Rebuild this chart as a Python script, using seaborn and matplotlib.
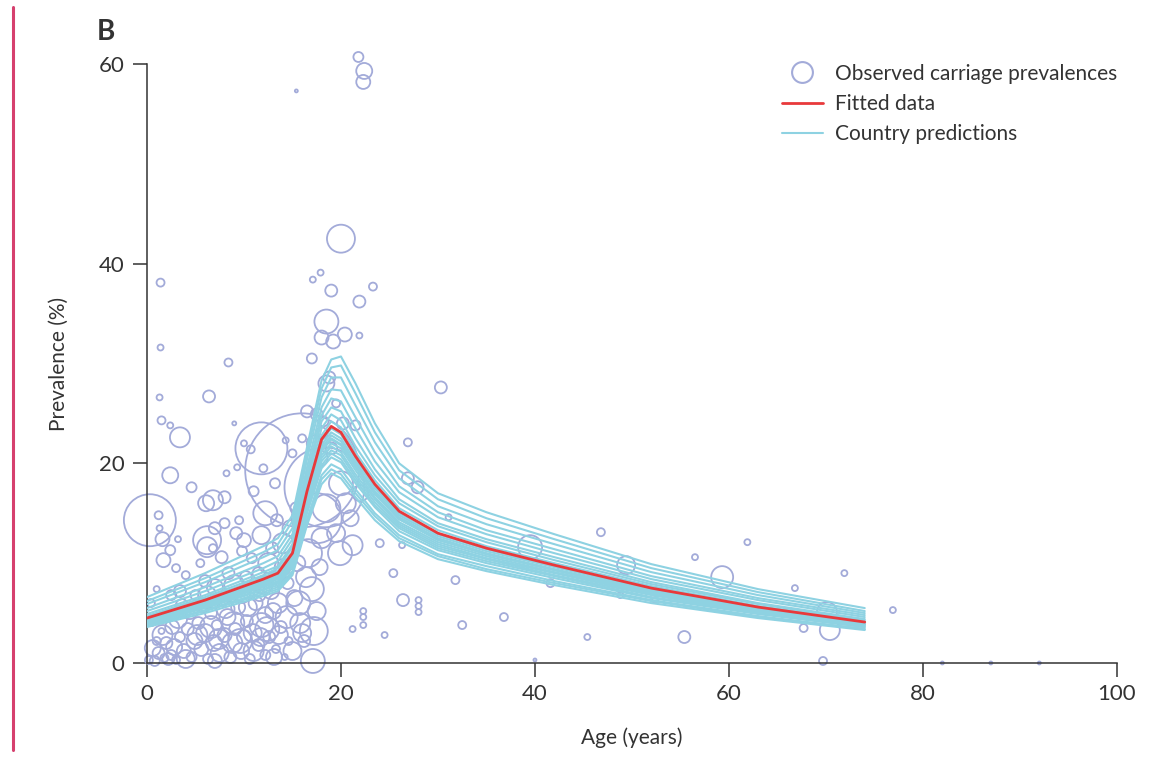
import matplotlib
matplotlib.use("Agg")
import matplotlib.pyplot as plt
from matplotlib.lines import Line2D
import pandas as pd
import seaborn as sns

# Observed carriage prevalences: age (years), prevalence (%), study size
OBS_AGE = [
    21.8, 22.4, 22.3, 15.4, 20.0, 17.9, 17.1, 19.0, 23.3, 21.9,
    18.5, 18.0, 20.4, 19.2, 21.9, 1.4, 1.4, 1.3, 6.4, 8.4,
    1.5, 2.4, 3.4, 30.3, 26.9, 11.8, 16.0, 18.3, 17.5, 0.3,
    1.2, 1.3, 1.6, 2.4, 1.7, 2.4, 4.6, 6.8, 6.1, 6.2,
    6.2, 8.2, 9.3, 9.0, 8.0, 10.7, 12.2, 9.5, 10.0, 11.8,
    13.4, 14.0, 12.5, 17.0, 18.5, 18.8, 17.5, 18.2, 20.2, 21.5,
    16.5, 19.5, 17.3, 17.8, 19.0, 18.0, 26.9, 27.9, 31.1, 26.3,
    25.4, 21.2, 19.9, 24.0, 31.8, 28.0, 28.0, 28.0, 26.4, 32.5,
    36.8, 39.5, 46.8, 41.6, 45.4, 49.4, 48.8, 52.4, 55.4, 56.5,
    59.3, 61.9, 66.8, 67.7, 70.1, 70.4, 71.9, 69.7, 76.9, 82.0,
    87.0, 92.0, 40.0, 24.5, 22.3, 22.3, 22.3, 21.2, 0.2, 0.8,
    1.2, 1.8, 2.5, 1.0, 2.0, 2.8, 3.4, 3.0, 1.5, 0.5,
    3.8, 4.2, 4.6, 4.9, 5.3, 5.6, 6.0, 6.3, 6.6, 6.9,
    7.2, 7.5, 7.8, 8.0, 8.3, 8.6, 8.8, 9.1, 9.4, 9.7,
    10.0, 10.3, 10.6, 10.9, 11.2, 11.5, 11.8, 12.2, 12.6, 13.0,
    13.3, 13.8, 14.2, 14.6, 5.0, 3.6, 2.2, 6.0, 7.0, 8.4,
    9.0, 10.2, 4.0, 3.0, 5.5, 7.7, 6.8, 10.8, 11.5, 12.8,
    13.5, 14.5, 15.2, 15.8, 16.2, 16.4, 17.0, 17.5, 17.8, 16.6,
    15.5, 17.2, 17.1, 18.0, 18.5, 19.5, 20.5, 21.0, 20.0, 22.0,
    14.8, 15.4, 13.2, 11.0, 12.0, 14.3, 15.0, 16.0, 10.0, 11.6,
    12.2, 0.4, 1.0, 2.5, 9.2, 8.0, 7.0, 9.8, 12.9, 3.2,
    0.6, 1.6, 2.6, 3.2, 4.4, 5.2, 5.8, 6.6, 7.4, 8.1,
    8.9, 9.6, 10.4, 11.0, 11.7, 12.4, 13.1, 13.6, 14.4, 15.0,
    15.6, 16.0, 7.0, 4.0, 2.2, 9.8, 6.2, 3.4, 12.0, 14.0,
]
OBS_PREV = [
    60.7, 59.3, 58.2, 57.3, 42.5, 39.1, 38.4, 37.3, 37.7, 36.2,
    34.2, 32.6, 32.9, 32.2, 32.8, 38.1, 31.6, 26.6, 26.7, 30.1,
    24.3, 23.8, 22.6, 27.6, 22.1, 21.5, 19.3, 17.6, 14.5, 14.3,
    14.8, 13.5, 12.4, 11.3, 10.3, 18.8, 17.6, 16.3, 16.0, 12.3,
    11.6, 19.0, 19.6, 24.0, 16.6, 21.4, 15.0, 14.3, 12.3, 12.8,
    14.3, 12.0, 10.0, 30.5, 28.0, 28.6, 24.9, 24.2, 24.0, 23.8,
    25.2, 26.0, 22.0, 20.5, 21.5, 23.0, 18.5, 17.6, 14.6, 11.8,
    9.0, 11.8, 11.0, 12.0, 8.3, 6.3, 5.7, 5.1, 6.3, 3.8,
    4.6, 11.6, 13.1, 8.0, 2.6, 9.8, 6.8, 6.3, 2.6, 10.6,
    8.6, 12.1, 7.5, 3.5, 5.1, 3.3, 9.0, 0.2, 5.3, 0.0,
    0.0, 0.0, 0.3, 2.8, 3.8, 4.6, 5.2, 3.4, 0.3, 0.2,
    1.0, 0.5, 0.8, 2.2, 2.0, 1.6, 2.6, 0.3, 3.2, 4.0,
    1.2, 3.4, 0.6, 2.2, 4.0, 1.4, 3.0, 0.4, 5.0, 2.0,
    3.8, 1.0, 6.2, 2.8, 4.6, 0.6, 2.0, 3.4, 5.6, 1.2,
    2.6, 4.2, 0.4, 3.0, 6.0, 1.8, 3.8, 0.8, 2.6, 5.2,
    1.4, 3.6, 0.6, 2.2, 6.8, 5.8, 4.8, 8.2, 7.6, 9.0,
    7.8, 8.6, 8.8, 9.5, 10.0, 10.6, 11.5, 10.5, 9.0, 7.2,
    6.0, 8.0, 6.5, 4.0, 2.2, 8.6, 7.4, 5.2, 9.6, 11.0,
    10.0, 3.2, 0.2, 12.5, 15.5, 13.0, 16.0, 14.5, 18.0, 17.0,
    13.5, 15.5, 18.0, 17.2, 19.5, 22.3, 21.0, 22.5, 22.0, 6.8,
    4.8, 6.0, 7.4, 6.8, 13.0, 14.0, 13.5, 11.2, 11.5, 12.4,
    1.5, 2.8, 3.6, 4.4, 5.2, 2.8, 5.8, 3.6, 2.4, 5.4,
    4.0, 2.2, 5.6, 1.2, 2.6, 3.4, 0.6, 2.8, 4.6, 1.2,
    6.0, 3.0, 0.2, 0.4, 0.4, 6.8, 6.8, 7.2, 7.8, 9.6,
]
OBS_N = [
    250, 640, 490, 22, 1960, 90, 90, 360, 160, 360,
    1440, 490, 490, 490, 90, 160, 90, 90, 360, 160,
    160, 90, 1000, 360, 160, 6760, 32490, 16000, 6250, 6760,
    160, 90, 490, 250, 490, 640, 250, 1000, 640, 1960,
    1000, 90, 90, 40, 360, 160, 1440, 160, 490, 810,
    360, 1000, 1000, 250, 640, 360, 360, 250, 360, 250,
    360, 160, 640, 640, 360, 360, 360, 360, 90, 90,
    160, 1000, 1440, 160, 160, 90, 90, 90, 360, 160,
    160, 1440, 160, 160, 90, 810, 90, 90, 360, 90,
    1210, 90, 90, 160, 1000, 1000, 90, 160, 90, 22,
    22, 22, 22, 90, 90, 90, 90, 90, 160, 250,
    360, 160, 250, 160, 360, 640, 250, 160, 90, 90,
    490, 360, 250, 640, 360, 490, 810, 250, 360, 640,
    250, 810, 250, 490, 640, 360, 1000, 360, 490, 640,
    490, 360, 250, 810, 490, 360, 1440, 250, 360, 640,
    160, 360, 90, 160, 250, 360, 160, 360, 640, 360,
    1000, 360, 160, 160, 160, 360, 160, 250, 360, 640,
    1000, 360, 640, 1000, 360, 1000, 1440, 810, 640, 1960,
    640, 1960, 1440, 1000, 1960, 810, 1000, 640, 1440, 640,
    640, 360, 250, 250, 160, 90, 160, 160, 90, 360,
    640, 160, 90, 250, 360, 250, 360, 250, 360, 90,
    640, 1000, 490, 810, 640, 1000, 490, 1210, 1000, 810,
    1210, 1440, 810, 1000, 810, 1440, 640, 810, 1210, 810,
    1440, 810, 490, 810, 360, 640, 810, 360, 810, 640,
]

# Model curves, read at these ages
AGE_KNOTS = [0, 6, 12, 13.5, 15, 16.5, 18, 19, 20, 21.5, 23.5, 26, 30, 35, 42, 52, 63, 74]
FITTED = [4.5, 6.3, 8.4, 9.0, 11.0, 17.2, 22.4, 23.7, 23.1, 20.7, 17.9, 15.2, 13.0, 11.5, 9.8, 7.5, 5.6, 4.1]
COUNTRY_PRED = [
    [3.6, 5.0, 6.7, 7.2, 8.8, 13.8, 17.9, 19.0, 18.5, 16.6, 14.3, 12.2, 10.4, 9.2, 7.8, 6.0, 4.5, 3.3],
    [3.7, 5.2, 6.9, 7.4, 9.0, 14.1, 18.4, 19.4, 18.9, 17.0, 14.7, 12.5, 10.7, 9.4, 8.0, 6.2, 4.6, 3.4],
    [3.8, 5.3, 7.1, 7.6, 9.2, 14.4, 18.8, 19.9, 19.4, 17.4, 15.0, 12.8, 10.9, 9.7, 8.2, 6.3, 4.7, 3.4],
    [3.9, 5.5, 7.3, 7.8, 9.6, 15.0, 19.5, 20.6, 20.1, 18.0, 15.6, 13.2, 11.3, 10.0, 8.5, 6.5, 4.9, 3.6],
    [4.0, 5.6, 7.4, 8.0, 9.7, 15.2, 19.8, 21.0, 20.4, 18.3, 15.8, 13.5, 11.5, 10.2, 8.7, 6.6, 5.0, 3.6],
    [4.0, 5.7, 7.6, 8.1, 9.9, 15.5, 20.2, 21.3, 20.8, 18.6, 16.1, 13.7, 11.7, 10.4, 8.8, 6.8, 5.0, 3.7],
    [4.1, 5.8, 7.7, 8.2, 10.1, 15.7, 20.5, 21.7, 21.1, 18.9, 16.4, 13.9, 11.9, 10.5, 9.0, 6.9, 5.1, 3.8],
    [4.2, 5.9, 7.8, 8.4, 10.2, 16.0, 20.8, 22.0, 21.5, 19.3, 16.6, 14.1, 12.1, 10.7, 9.1, 7.0, 5.2, 3.8],
    [4.3, 6.0, 7.9, 8.5, 10.4, 16.3, 21.2, 22.4, 21.8, 19.6, 16.9, 14.4, 12.3, 10.9, 9.3, 7.1, 5.3, 3.9],
    [4.3, 6.0, 8.0, 8.6, 10.4, 16.4, 21.3, 22.5, 21.9, 19.7, 17.0, 14.4, 12.4, 10.9, 9.3, 7.1, 5.3, 3.9],
    [4.3, 6.0, 8.1, 8.6, 10.6, 16.5, 21.5, 22.8, 22.2, 19.9, 17.2, 14.6, 12.5, 11.0, 9.4, 7.2, 5.4, 3.9],
    [4.4, 6.1, 8.2, 8.8, 10.7, 16.8, 21.8, 23.1, 22.5, 20.2, 17.5, 14.8, 12.7, 11.2, 9.6, 7.3, 5.5, 4.0],
    [4.5, 6.2, 8.3, 8.9, 10.9, 17.0, 22.2, 23.5, 22.9, 20.5, 17.7, 15.0, 12.9, 11.4, 9.7, 7.4, 5.5, 4.1],
    [4.6, 6.4, 8.6, 9.2, 11.2, 17.5, 22.8, 24.2, 23.6, 21.1, 18.3, 15.5, 13.3, 11.7, 10.0, 7.7, 5.7, 4.2],
    [4.7, 6.6, 8.8, 9.5, 11.6, 18.1, 23.5, 24.9, 24.3, 21.7, 18.8, 16.0, 13.7, 12.1, 10.3, 7.9, 5.9, 4.3],
    [4.9, 6.8, 9.1, 9.7, 11.9, 18.6, 24.2, 25.6, 25.2, 22.5, 19.4, 16.4, 14.0, 12.4, 10.6, 8.1, 6.0, 4.4],
    [5.2, 7.2, 9.5, 10.2, 12.4, 19.0, 24.8, 26.5, 26.2, 23.5, 20.2, 17.1, 14.6, 12.9, 11.0, 8.4, 6.3, 4.6],
    [5.5, 7.6, 10.0, 10.7, 12.9, 19.6, 25.6, 27.4, 27.3, 24.6, 21.1, 17.7, 15.1, 13.3, 11.4, 8.7, 6.5, 4.8],
    [5.9, 8.1, 10.6, 11.3, 13.5, 20.4, 26.6, 28.6, 28.6, 25.8, 22.1, 18.5, 15.7, 13.9, 11.9, 9.1, 6.8, 5.0],
    [6.2, 8.5, 11.1, 11.9, 14.2, 21.0, 27.5, 29.6, 29.8, 27.0, 23.1, 19.3, 16.4, 14.5, 12.4, 9.5, 7.1, 5.2],
    [6.6, 9.0, 11.7, 12.5, 14.8, 21.6, 28.3, 30.4, 30.7, 28.0, 24.0, 20.0, 17.0, 15.1, 12.9, 9.9, 7.4, 5.5],
]

BUBBLE = "#a3abd9"
CYAN = "#8ed2e2"
RED = "#e8393b"
INK = "#333333"

sns.set_theme(style="ticks")
plt.rcParams["font.family"] = ["Lato", "DejaVu Sans"]
plt.rcParams["text.color"] = INK
plt.rcParams["axes.labelcolor"] = INK

fig = plt.figure(figsize=(11.59, 7.57), dpi=100)
ax = fig.add_axes([0.1268, 0.1242, 0.8369, 0.7913])

# bubbles, area proportional to study size
obs = pd.DataFrame({"age": OBS_AGE, "prev": OBS_PREV, "n": OBS_N})
k = 0.207
nmin, nmax = obs["n"].min(), obs["n"].max()
sns.scatterplot(data=obs, x="age", y="prev", size="n", sizes=(nmin * k, nmax * k),
                size_norm=(nmin, nmax), color=BUBBLE, facecolor="none", edgecolor=BUBBLE,
                linewidth=1.3, legend=False, ax=ax, zorder=2)
pts = ax.collections[-1]
pts.set_facecolor("none")
pts.set_edgecolor(BUBBLE)
pts.set_clip_on(False)

# country predictions
rows = []
for i, curve in enumerate(COUNTRY_PRED):
    for a, v in zip(AGE_KNOTS, curve):
        rows.append({"country": i, "age": a, "prev": v})
pred = pd.DataFrame(rows)
sns.lineplot(data=pred, x="age", y="prev", units="country", estimator=None, sort=False,
             color=CYAN, lw=1.5, ax=ax, zorder=3, legend=False)

# fitted
sns.lineplot(x=AGE_KNOTS, y=FITTED, color=RED, lw=2.0, ax=ax, zorder=4)

ax.set_xlim(0, 100)
ax.set_ylim(0, 60)
ax.set_xticks([0, 20, 40, 60, 80, 100])
ax.set_yticks([0, 20, 40, 60])
sns.despine(ax=ax)
for s in ["left", "bottom"]:
    ax.spines[s].set_color(INK)
    ax.spines[s].set_linewidth(1.1)
ax.tick_params(axis="both", direction="out", length=10, width=1.1, color=INK,
               labelsize=16, labelcolor=INK)
ax.tick_params(axis="y", pad=6)
ax.tick_params(axis="x", pad=5)

ax.set_xlabel("Age (years)", fontsize=15)
ax.set_ylabel("Prevalence (%)", fontsize=15)
ax.xaxis.set_label_coords(0.5, -0.108)
ax.yaxis.set_label_coords(-0.081, 0.5)

handles = [
    Line2D([], [], marker="o", ls="", ms=15, mfc="none", mec=BUBBLE, mew=1.5),
    Line2D([], [], color=RED, lw=2.0),
    Line2D([], [], color=CYAN, lw=1.5),
]
labels = ["Observed carriage prevalences", "Fitted data", "Country predictions"]
ax.legend(handles, labels, loc="upper right", bbox_to_anchor=(0.964, 0.916),
          bbox_transform=fig.transFigure, frameon=False, fontsize=15,
          handlelength=1.95, handletextpad=0.6, labelspacing=0.5,
          borderpad=0, borderaxespad=0)

fig.text(97 / 1159, 1 - 40 / 757, "B", fontsize=20, fontweight="bold", color=INK)
fig.add_artist(Line2D([13 / 1159, 13 / 1159], [1 - 7 / 757, 1 - 750 / 757],
                      color="#d6406e", lw=2.2, transform=fig.transFigure))

fig.savefig("out.png", dpi=100)
